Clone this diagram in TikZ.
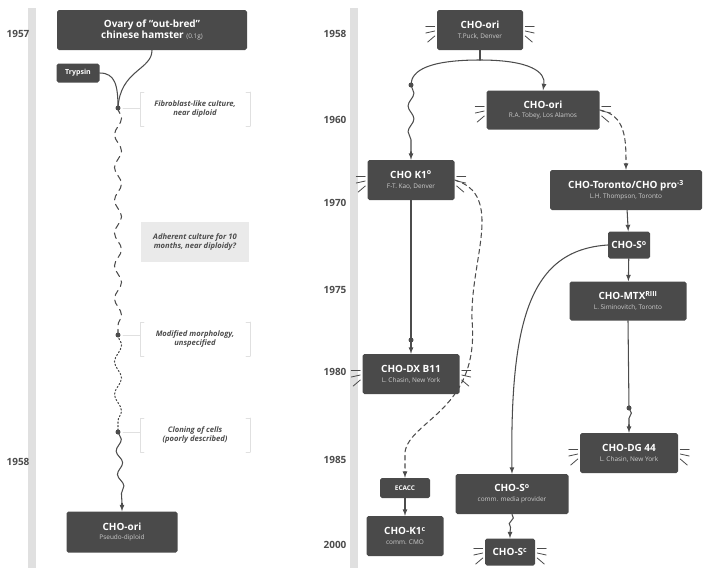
\documentclass[tikz,border=0pt]{standalone}
\usepackage{fontspec}
\setmainfont{Open Sans}
\usepackage{tikz}
\usetikzlibrary{calc}
\usetikzlibrary{arrows}
\usetikzlibrary{decorations.pathmorphing}
\definecolor{boxgray}{rgb}{0.29,0.29,0.29}
\definecolor{bargray}{rgb}{0.88,0.88,0.88}
\definecolor{subgray}{rgb}{0.8,0.8,0.8}
\definecolor{linegray}{rgb}{0.3,0.3,0.3}
\tikzset{
  box/.style={fill=boxgray,text=white,rounded corners=1.5pt,align=center,inner sep=2pt,font=\fontsize{8.5}{9.5}\selectfont\bfseries},
  year/.style={text=linegray,font=\fontsize{8.5}{9}\selectfont\bfseries},
  note/.style={align=center,text=linegray,font=\fontsize{6.5}{8}\selectfont\bfseries\itshape},
  link/.style={line width=0.9pt,color=linegray,-latex},
  wavy/.style={decorate,decoration={snake,amplitude=3pt,segment length=28pt}},
  dot/.style={fill=linegray,draw=none},
  whisker/.style={line width=0.7pt,color=linegray}
}
\newcommand{\sub}[1]{\\[-1pt]{\fontsize{5.5}{6}\selectfont\mdseries\color{subgray}#1}}
\newcommand{\whisk}[1]{%
  \draw[whisker] ($(#1.west)+(-2,-4)$) -- +(-9,0);
  \draw[whisker] ($(#1.west)+(-2,1)$) -- +(-9,2);
  \draw[whisker] ($(#1.west)+(-2,6)$) -- +(-7,6);
  \draw[whisker] ($(#1.east)+(2,-4)$) -- +(9,0);
  \draw[whisker] ($(#1.east)+(2,1)$) -- +(9,2);
  \draw[whisker] ($(#1.east)+(2,6)$) -- +(7,6);}
\newcommand{\bracket}[3]{%
  \draw[line width=0.6pt,color=bargray] ($(#1,#2)+(4,0)$) -- (#1,#2) -- (#1,#3) -- ++(4,0);}

\begin{document}
\begin{tikzpicture}[line cap=round,line join=round,x=0.03cm,y=-0.03cm]
            \useasboundingbox (0,0) rectangle (720,576);
            % timelines
            \fill[bargray] (28,8) rectangle (36,568);
            \fill[bargray] (350,8) rectangle (358,568);
            \node[year] (y57) at (18,34) {1957};
            \node[year] (y58l) at (18,462) {1958};
            \foreach \yr/\yy in {1958/34,1960/120,1970/203,1975/290,1980/372,1985/460,2000/545}
              \node[year] (y\yr) at (335,\yy) {\yr};
            % left column
            \node[box,minimum width=190*0.03cm,minimum height=40*0.03cm] (ovary) at (152,30) {Ovary of “out-bred”\\chinese hamster {\fontsize{5.5}{6}\selectfont\mdseries\color{subgray}(0.1g)}};
            \node[box,font=\fontsize{6}{7}\selectfont\bfseries,minimum width=43*0.03cm,minimum height=19*0.03cm] (tryp) at (78,73) {Trypsin};
            \coordinate (fib) at (118,108);
            \coordinate (mod) at (118,335);
            \coordinate (clo) at (118,432);
            \node[box,minimum width=111*0.03cm,minimum height=41*0.03cm] (oril) at (122,532) {CHO-ori\sub{Pseudo-diploid}};
            \draw[line width=0.9pt,color=linegray] (ovary.south) .. controls (152,70) and (120,70) .. (fib);
            \draw[line width=0.9pt,color=linegray] (tryp.east) .. controls (115,73) and (118,85) .. (fib);
            \draw[line width=0.9pt,color=linegray,dash pattern=on 5pt off 4pt,wavy] (fib) -- (mod);
            \draw[line width=0.9pt,color=linegray,dash pattern=on 1.2pt off 1.8pt,wavy] (mod) -- (clo);
            \draw[line width=0.9pt,color=linegray,wavy,decoration={segment length=20pt,amplitude=2.5pt}] (clo) -- ($(oril.north)+(0,-8)$);
            \draw[link] ($(oril.north)+(0,-8)$) -- (oril.north);
            \foreach \c in {fib,mod,clo} {
              \fill[dot] (\c) circle (2.5);
              \draw[line width=0.5pt,color=bargray] ($(\c)+(5,0)$) -- +(17,0);
            }
            \bracket{140}{92}{126}
            \draw[line width=0.6pt,color=bargray] (250,92) -- (250,126) (250,92) -- +(-4,0) (250,126) -- +(-4,0);
            \node[note] (fibtxt) at (195,109) {Fibroblast-like culture,\\near diploid};
            \node[note,fill=bargray!70,minimum width=108*0.03cm,minimum height=40*0.03cm] (adh) at (195,242) {Adherent culture for 10\\months, near diploidy?};
            \bracket{140}{322}{356}
            \draw[line width=0.6pt,color=bargray] (250,322) -- (250,356) (250,322) -- +(-4,0) (250,356) -- +(-4,0);
            \node[note] (modtxt) at (195,339) {Modified morphology,\\unspecified};
            \bracket{140}{418}{452}
            \draw[line width=0.6pt,color=bargray] (250,418) -- (250,452) (250,418) -- +(-4,0) (250,452) -- +(-4,0);
            \node[note] (clotxt) at (195,435) {Cloning of cells\\(poorly described)};
            % right column
            \node[box,minimum width=86*0.03cm,minimum height=40*0.03cm] (orir) at (480,30) {CHO-ori\sub{T.Puck, Denver}};
            \node[box,minimum width=113*0.03cm,minimum height=39*0.03cm] (tobey) at (543,110) {CHO-ori\sub{R.A. Tobey, Los Alamos}};
            \node[box,minimum width=87*0.03cm,minimum height=40*0.03cm] (k1) at (411,180) {CHO K1\textsuperscript{o}\sub{F-T. Kao, Denver}};
            \node[box,minimum width=152*0.03cm,minimum height=40*0.03cm] (tor) at (626,190) {CHO-Toronto/CHO pro\textsuperscript{-3}\sub{L.H. Thompson, Toronto}};
            \node[box,minimum width=42*0.03cm,minimum height=27*0.03cm] (chos) at (629,245) {CHO-S\textsuperscript{o}};
            \node[box,minimum width=117*0.03cm,minimum height=39*0.03cm] (mtx) at (628,301) {CHO-MTX\textsuperscript{RIII}\sub{L. Siminovitch, Toronto}};
            \node[box,minimum width=97*0.03cm,minimum height=40*0.03cm] (dx) at (411,374) {CHO-DX B11\sub{L. Chasin, New York}};
            \node[box,minimum width=98*0.03cm,minimum height=40*0.03cm] (dg) at (629,453) {CHO-DG 44\sub{L. Chasin, New York}};
            \node[box,font=\fontsize{5.5}{6}\selectfont\bfseries,minimum width=50*0.03cm,minimum height=20*0.03cm] (ecacc) at (405,488) {ECACC};
            \node[box,minimum width=77*0.03cm,minimum height=40*0.03cm] (k1c) at (405,536) {CHO-K1\textsuperscript{c}\sub{comm. CMO}};
            \node[box,minimum width=113*0.03cm,minimum height=40*0.03cm] (chosm) at (512,494) {CHO-S\textsuperscript{o}\sub{comm. media provider}};
            \node[box,minimum width=50*0.03cm,minimum height=27*0.03cm] (chosc) at (510,552) {CHO-S\textsuperscript{c}};
            \foreach \n in {orir,tobey,k1,dx,dg,chosc} \whisk{\n};
            % connectors
            \coordinate (split) at (480,60);
            \coordinate (k1dot) at (411,85);
            \coordinate (dxdot) at (411,340);
            \coordinate (dgdot) at (629,408);
            \draw[line width=0.9pt,color=linegray] (orir.south) -- (split);
            \draw[line width=0.9pt,color=linegray] (split) .. controls (430,60) and (411,70) .. (k1dot);
            \draw[link] (split) .. controls (530,60) and (546,72) .. (tobey.north);
            \draw[line width=0.9pt,color=linegray,wavy,decoration={segment length=22pt,amplitude=2.5pt}] (k1dot) -- ($(k1.north)+(0,-8)$);
            \draw[link] ($(k1.north)+(0,-8)$) -- (k1.north);
            \draw[link,dash pattern=on 4pt off 3pt] (tobey.east) .. controls (626,115) and (626,140) .. (tor.north);
            \draw[link] (tor) -- (chos);
            \draw[link] (chos) -- (mtx);
            \draw[line width=0.9pt,color=linegray] (mtx.south) -- (dgdot);
            \draw[line width=0.9pt,color=linegray,wavy,decoration={segment length=14pt,amplitude=2pt}] (dgdot) -- ($(dg.north)+(0,-8)$);
            \draw[link] ($(dg.north)+(0,-8)$) -- (dg.north);
            \draw[line width=0.9pt,color=linegray] (k1.south) -- (dxdot);
            \draw[line width=0.9pt,color=linegray,wavy,decoration={segment length=14pt,amplitude=2pt}] (dxdot) -- ($(dx.north)+(0,-8)$);
            \draw[link] ($(dx.north)+(0,-8)$) -- (dx.north);
            \draw[link,dash pattern=on 4pt off 3pt] (k1.east) .. controls (505,195) and (470,260) .. (472,320) .. controls (480,410) and (410,420) .. (405,452) -- (ecacc.north);
            \draw[link] (ecacc) -- (k1c);
            \draw[link] (chos.west) .. controls (530,250) and (510,320) .. (chosm.north);
            \draw[line width=0.9pt,color=linegray,wavy,decoration={segment length=10pt,amplitude=1.5pt}] (chosm.south) -- ($(chosc.north)+(0,-6)$);
            \draw[link] ($(chosc.north)+(0,-6)$) -- (chosc.north);
            \foreach \c in {k1dot,dxdot,dgdot} \fill[dot] (\c) circle (2.5);
            \end{tikzpicture}
\end{document}
